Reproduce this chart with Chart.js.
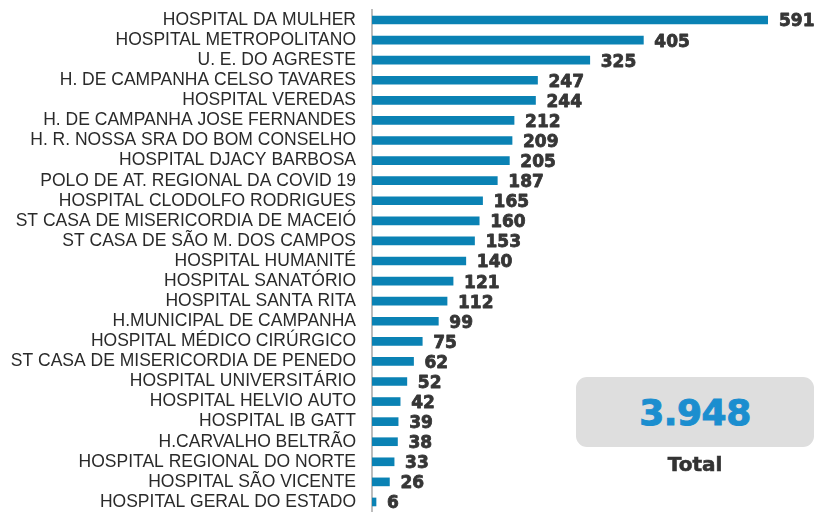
<!DOCTYPE html>
<html>
<head>
<meta charset="utf-8">
<script src="https://cdn.jsdelivr.net/npm/chart.js@4"></script>
<style>
  html, body { margin: 0; padding: 0; background: #ffffff; }
  #wrap { position: relative; width: 816px; height: 512px; overflow: hidden; }
  canvas { display: block; }
  #totalBox {
    position: absolute; left: 576px; top: 377px; width: 238px; height: 70px;
    background: #dedede; border-radius: 11px;
    display: flex; align-items: center; justify-content: center;
    font-family: "DejaVu Sans", sans-serif; font-weight: bold; font-size: 36px;
    color: #1b8ecf; letter-spacing: -0.5px; -webkit-text-stroke: 1px #1b8ecf;
  }
  #totalLabel {
    position: absolute; left: 576px; top: 452px; width: 238px; text-align: center;
    font-family: "DejaVu Sans", sans-serif; font-weight: bold; font-size: 20px; color: #333;
    -webkit-text-stroke: 0.6px #333;
  }
</style>
</head>
<body>
<div id="wrap">
  <canvas id="c" width="816" height="512"></canvas>
  <div id="totalBox">3.948</div>
  <div id="totalLabel">Total</div>
</div>
<script>
const categories = [
  "HOSPITAL DA MULHER",
  "HOSPITAL METROPOLITANO",
  "U. E. DO AGRESTE",
  "H. DE CAMPANHA CELSO TAVARES",
  "HOSPITAL VEREDAS",
  "H. DE CAMPANHA JOSE FERNANDES",
  "H. R. NOSSA SRA DO BOM CONSELHO",
  "HOSPITAL DJACY BARBOSA",
  "POLO DE AT. REGIONAL DA COVID 19",
  "HOSPITAL CLODOLFO RODRIGUES",
  "ST CASA DE MISERICORDIA DE MACEIÓ",
  "ST CASA DE SÃO M. DOS CAMPOS",
  "HOSPITAL HUMANITÉ",
  "HOSPITAL SANATÓRIO",
  "HOSPITAL SANTA RITA",
  "H.MUNICIPAL DE CAMPANHA",
  "HOSPITAL MÉDICO CIRÚRGICO",
  "ST CASA DE MISERICORDIA DE PENEDO",
  "HOSPITAL UNIVERSITÁRIO",
  "HOSPITAL HELVIO AUTO",
  "HOSPITAL IB GATT",
  "H.CARVALHO BELTRÃO",
  "HOSPITAL REGIONAL DO NORTE",
  "HOSPITAL SÃO VICENTE",
  "HOSPITAL GERAL DO ESTADO"
];
const values = [591, 405, 325, 247, 244, 212, 209, 205, 187, 165, 160, 153, 140, 121, 112, 99, 75, 62, 52, 42, 39, 38, 33, 26, 6];
const totalValue = "3.948";
const totalLabel = "Total";

document.getElementById('totalBox').textContent = totalValue;
document.getElementById('totalLabel').textContent = totalLabel;

const valueLabels = {
  id: 'valueLabels',
  afterDatasetsDraw(chart) {
    const ctx = chart.ctx;
    const meta = chart.getDatasetMeta(0);
    ctx.save();
    ctx.font = 'bold 17px "DejaVu Sans", sans-serif';
    ctx.fillStyle = '#363636';
    ctx.strokeStyle = '#363636';
    ctx.lineWidth = 0.8;
    ctx.lineJoin = 'round';
    ctx.textBaseline = 'middle';
    ctx.textAlign = 'left';
    meta.data.forEach((bar, i) => {
      const t = String(values[i]);
      ctx.fillText(t, bar.x + 11, bar.y + 2);
      ctx.strokeText(t, bar.x + 11, bar.y + 2);
    });
    ctx.restore();
  }
};

new Chart(document.getElementById('c'), {
  type: 'bar',
  data: {
    labels: categories,
    datasets: [{
      data: values,
      backgroundColor: '#0a82b4',
      borderWidth: 0,
      barThickness: 8
    }]
  },
  options: {
    indexAxis: 'y',
    responsive: false,
    animation: false,
    layout: { padding: { top: 10, right: 48, bottom: 0, left: 0 } },
    plugins: { legend: { display: false }, tooltip: { enabled: false } },
    scales: {
      x: { display: false, min: 0, max: 591 },
      y: {
        afterFit(scale) {
          scale.width = 372;
          scale.paddingTop = 0;
          scale.paddingBottom = 0;
        },
        grid: { display: false, drawTicks: false },
        border: { display: true, color: '#bdbdbd', width: 2 },
        ticks: {
          padding: 16,
          color: '#2a2a2a',
          autoSkip: false,
          font: { family: '"Liberation Sans", Arial, sans-serif', size: 17.5 }
        }
      }
    }
  },
  plugins: [valueLabels]
});
</script>
</body>
</html>
